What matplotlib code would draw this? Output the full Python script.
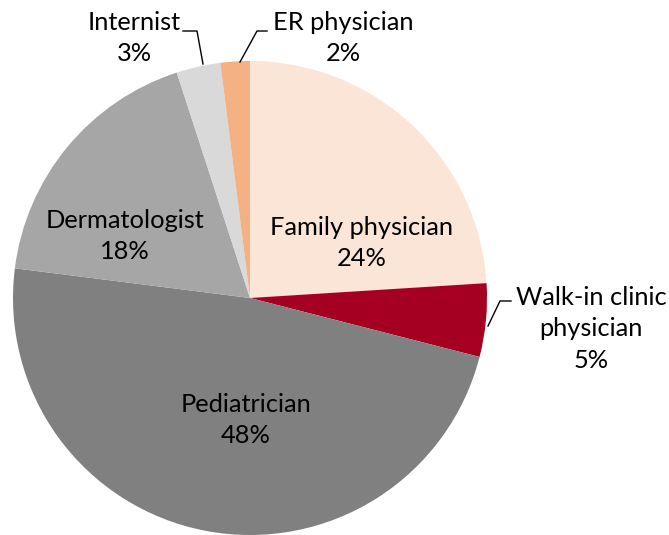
import matplotlib.pyplot as plt

labels = ["Family physician", "Walk-in clinic\nphysician", "Pediatrician",
          "Dermatologist", "Internist", "ER physician"]
shares = [24, 5, 48, 18, 3, 2]
colors = ["#FBE5D6", "#A50021", "#808080", "#A6A6A6", "#D9D9D9", "#F4B183"]

W, H = 669, 535
fig = plt.figure(figsize=(W / 100, H / 100), dpi=100)
ax = fig.add_axes([0, 0, 1, 1])

cx, cy, r = 250, H - 298, 237
ax.pie(shares, colors=colors, startangle=90, counterclock=False,
       center=(cx, cy), radius=r, frame=True)
ax.set_xlim(0, W)
ax.set_ylim(0, H)
ax.set_aspect("equal")
ax.axis("off")

font = dict(family="Lato", fontsize=18.3, color="black",
            ha="center", va="center", linespacing=1.45)

# label positions in pixel coords from the top-left
pos = [(362, 243), (591, 329), (246, 420), (125, 236), (134, 38), (343, 38)]
for lab, val, (x, y) in zip(labels, shares, pos):
    ax.text(x, H - y, f"{lab}\n{val}%", **font)

# leader lines for the small slices
ax.plot([183, 197, 203], [H - 31, H - 31, H - 64], color="black", lw=1)
ax.plot([267, 257, 240], [H - 31, H - 31, H - 62], color="black", lw=1)
ax.plot([511, 500, 488], [H - 301, H - 301, H - 326], color="black", lw=1)

fig.savefig("out.png", dpi=100)
